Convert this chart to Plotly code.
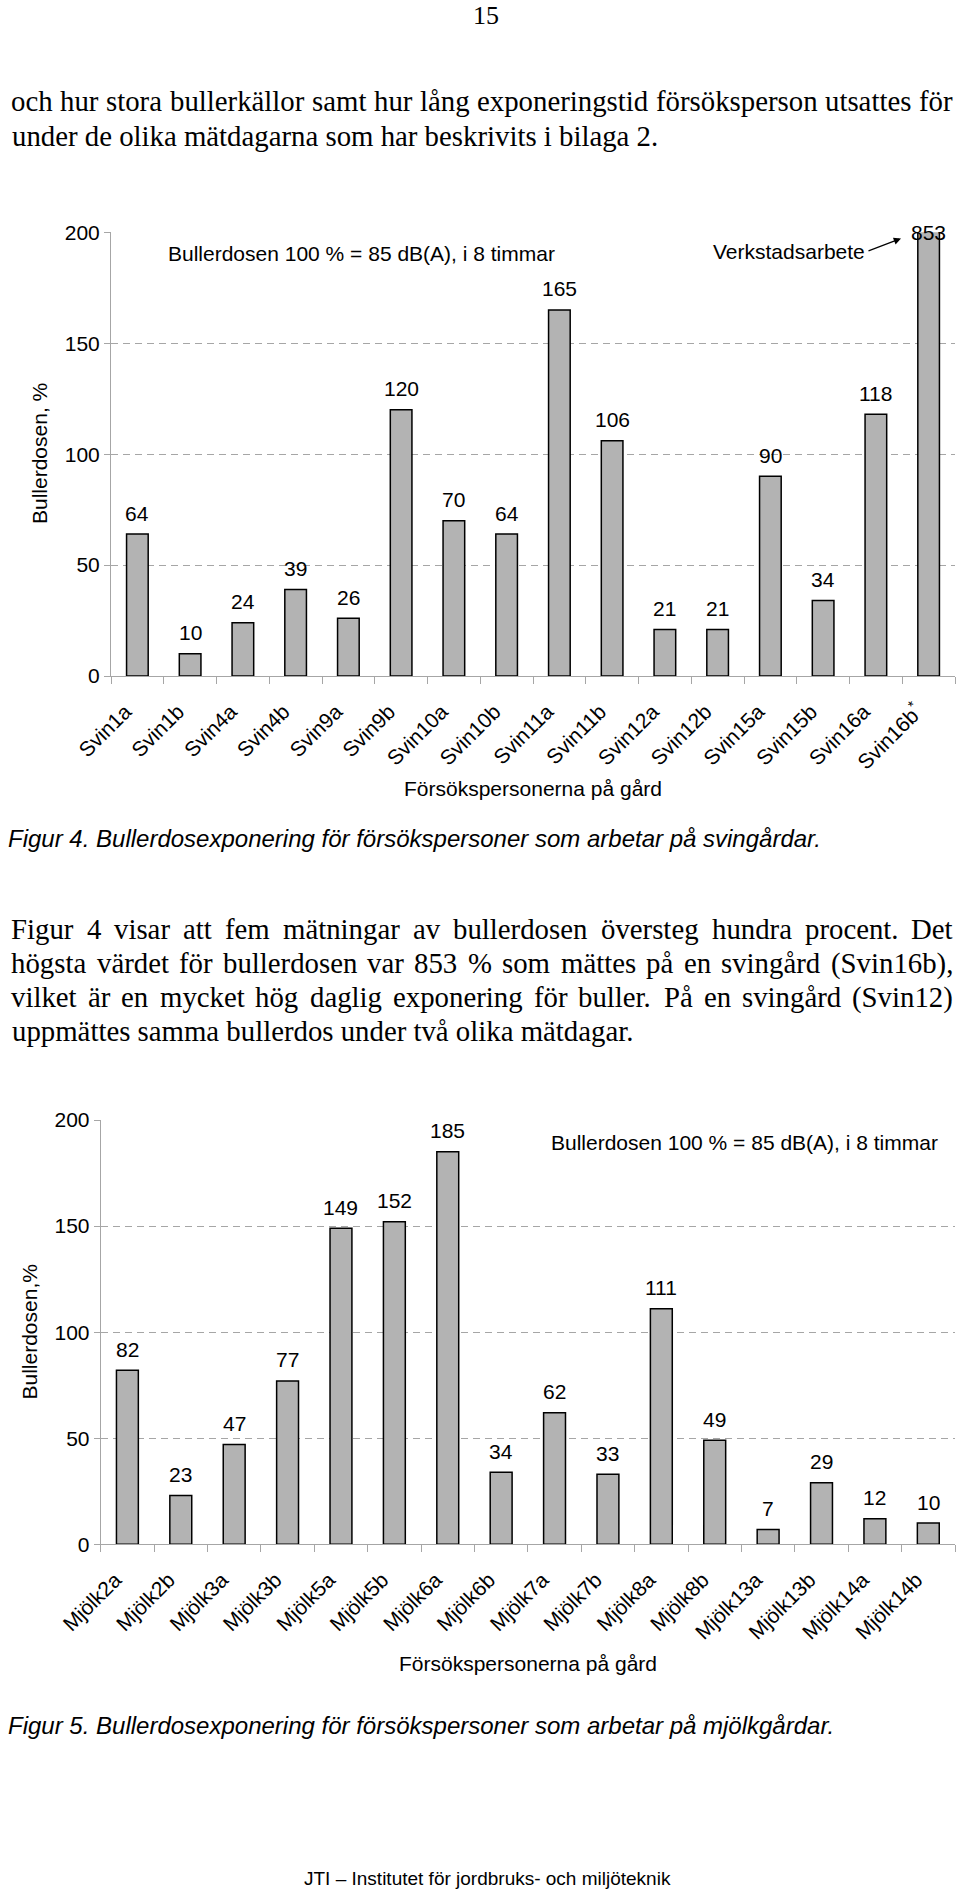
import plotly.graph_objects as go

# ---------------- data ----------------
svin_cats = ["Svin1a", "Svin1b", "Svin4a", "Svin4b", "Svin9a", "Svin9b", "Svin10a", "Svin10b",
             "Svin11a", "Svin11b", "Svin12a", "Svin12b", "Svin15a", "Svin15b", "Svin16a", "Svin16b"]
svin_ticktext = ["Svin1a", "Svin1b", "Svin4a", "Svin4b", "Svin9a", "Svin9b", "Svin10a", "Svin10b",
                 "Svin11a", "Svin11b", "Svin12a", "Svin12b", "Svin15a", "Svin15b", "Svin16a", "Svin16b<sup>*</sup>"]
svin_vals = [64, 10, 24, 39, 26, 120, 70, 64, 165, 106, 21, 21, 90, 34, 118, 853]

mjolk_cats = ["Mjölk2a", "Mjölk2b", "Mjölk3a", "Mjölk3b", "Mjölk5a", "Mjölk5b", "Mjölk6a", "Mjölk6b",
              "Mjölk7a", "Mjölk7b", "Mjölk8a", "Mjölk8b", "Mjölk13a", "Mjölk13b", "Mjölk14a", "Mjölk14b"]
mjolk_vals = [82, 23, 47, 77, 149, 152, 185, 34, 62, 33, 111, 49, 7, 29, 12, 10]

y_ticks = [0, 50, 100, 150, 200]
y_max = 200

page_number = "15"
para1 = ["och hur stora bullerkällor samt hur lång exponeringstid försöksperson utsattes för",
         "under de olika mätdagarna som har beskrivits i bilaga 2."]
para1_justify = [True, False]
para2 = ["Figur 4 visar att fem mätningar av bullerdosen översteg hundra procent. Det",
         "högsta värdet för bullerdosen var 853 % som mättes på en svingård (Svin16b),",
         "vilket är en mycket hög daglig exponering för buller. På en svingård (Svin12)",
         "uppmättes samma bullerdos under två olika mätdagar."]
para2_justify = [True, True, True, False]
caption4 = "Figur 4. Bullerdosexponering för försökspersoner som arbetar på svingårdar."
caption5 = "Figur 5. Bullerdosexponering för försökspersoner som arbetar på mjölkgårdar."
note_text = "Bullerdosen 100 % = 85 dB(A), i 8 timmar"
verkstad_text = "Verkstadsarbete"
xtitle = "Försökspersonerna på gård"
ytitle1 = "Bullerdosen, %"
ytitle2 = "Bullerdosen,%"
footer = "JTI – Institutet för jordbruks- och miljöteknik"

# ---------------- layout helpers ----------------
W, H = 960, 1892
def px(x):
    return x / W
def py(y):
    return 1 - y / H

SANS = "Liberation Sans, Arial, sans-serif"
SERIF = "Liberation Serif, Times New Roman, serif"
BAR_FILL = "#b3b3b3"
AXIS_COL = "#a6a6a6"
GRID_COL = "#a6a6a6"
FS = 21          # chart text size
BODY = 28.8      # body text size

# Times / Liberation Serif advance widths (1/1000 em) for justification
TIMES = {' ': 250, '.': 250, ',': 250, '(': 333, ')': 333, '%': 833,
         'a': 444, 'b': 500, 'c': 444, 'd': 500, 'e': 444, 'f': 333, 'g': 500, 'h': 500, 'i': 278,
         'j': 278, 'k': 500, 'l': 278, 'm': 778, 'n': 500, 'o': 500, 'p': 500, 'q': 500, 'r': 333,
         's': 389, 't': 278, 'u': 500, 'v': 500, 'w': 722, 'x': 500, 'y': 500, 'z': 444,
         'å': 444, 'ä': 444, 'ö': 500, 'D': 722, 'F': 556, 'P': 556, 'S': 556}
for d in "0123456789":
    TIMES[d] = 500
def tw(s, size):
    return sum(TIMES.get(ch, 500) for ch in s) / 1000.0 * size

fig = go.Figure()
fig.add_trace(go.Bar(x=svin_cats, y=svin_vals, xaxis="x", yaxis="y",
                     marker=dict(color=BAR_FILL, line=dict(color="black", width=1.5)),
                     hoverinfo="x+y"))
fig.add_trace(go.Bar(x=mjolk_cats, y=mjolk_vals, xaxis="x2", yaxis="y2",
                     marker=dict(color=BAR_FILL, line=dict(color="black", width=1.5)),
                     hoverinfo="x+y"))

common_y = dict(range=[0, y_max], tickvals=y_ticks, ticks="outside", ticklen=6, tickcolor=AXIS_COL,
                showline=True, linecolor=AXIS_COL, linewidth=1, automargin=False,
                showgrid=True, gridcolor=GRID_COL, griddash="7px,5px", gridwidth=1,
                zeroline=False, tickfont=dict(family=SANS, size=FS, color="black"), fixedrange=True)
common_x = dict(type="category", ticks="outside", ticklen=7, tickcolor=AXIS_COL, tickson="boundaries",
                showline=True, linecolor=AXIS_COL, linewidth=1, showgrid=False, tickangle=-45,
                automargin=False, ticklabelshift=-12, ticklabelstandoff=14,
                tickfont=dict(family=SANS, size=FS, color="black"), fixedrange=True)

fig.update_layout(
    width=W, height=H, margin=dict(l=0, r=0, t=0, b=0, autoexpand=False),
    paper_bgcolor="white", plot_bgcolor="white", showlegend=False, bargap=0.59,
    xaxis=dict(domain=[px(111), px(955)], anchor="y", tickvals=svin_cats, ticktext=svin_ticktext, **common_x),
    yaxis=dict(domain=[py(676), py(232.3)], anchor="x", **common_y),
    xaxis2=dict(domain=[px(100.7), px(955)], anchor="y2", **common_x),
    yaxis2=dict(domain=[py(1544.3), py(1120)], anchor="x2", **common_y),
)

ann = []
def text_ann(x, y, text, size=FS, family=SANS, xanchor="center", **kw):
    d = dict(x=px(x), y=py(y), xref="paper", yref="paper", text=text, showarrow=False,
             xanchor=xanchor, yanchor="middle", font=dict(family=family, size=size, color="black"))
    d.update(kw)
    ann.append(d)

# bar value labels
def add_labels(cats, vals, xr, yr):
    for c, v in zip(cats, vals):
        clipped = v > y_max
        ann.append(dict(x=c, y=min(v, y_max), xref=xr, yref=yr, text=str(v), showarrow=False,
                        xanchor="center", yanchor="middle", yshift=0 if clipped else 21,
                        font=dict(family=SANS, size=FS, color="black")))
add_labels(svin_cats, svin_vals, "x", "y")
add_labels(mjolk_cats, mjolk_vals, "x2", "y2")

# chart notes
text_ann(361, 253, note_text)
text_ann(744.5, 1142, note_text)
text_ann(789, 252, verkstad_text)
ann.append(dict(x=px(901), y=py(238.5), xref="paper", yref="paper", text="", showarrow=True,
                ax=-34, ay=13, arrowhead=2, arrowsize=1.2, arrowwidth=1.2, arrowcolor="black"))

# axis titles
text_ann(40, 454, ytitle1, textangle=-90)
text_ann(28.5, 1332, ytitle2, textangle=-90)
text_ann(533, 788, xtitle)
text_ann(528, 1663, xtitle)

# captions
cap_font = dict(family=SANS, size=24, color="black", style="italic")
ann.append(dict(x=px(6), y=py(838), xref="paper", yref="paper", text=caption4, xanchor="left",
                yanchor="middle", showarrow=False, font=cap_font))
ann.append(dict(x=px(6), y=py(1725), xref="paper", yref="paper", text=caption5, xanchor="left",
                yanchor="middle", showarrow=False, font=cap_font))

# body text (justified like the source page)
LEFT, RIGHT = 10, 952
def body_lines(lines, justify, y0, dy):
    for i, (line, j) in enumerate(zip(lines, justify)):
        y = y0 + dy * i
        if not j:
            text_ann(LEFT, y, line, size=BODY, family=SERIF, xanchor="left")
            continue
        words = line.split(" ")
        widths = [tw(w, BODY) for w in words]
        gap = (RIGHT - LEFT - sum(widths)) / (len(words) - 1)
        x = LEFT
        for w, wd in zip(words, widths):
            text_ann(x, y, w, size=BODY, family=SERIF, xanchor="left", borderpad=0)
            x += wd + gap

text_ann(486, 16, page_number, size=26, family=SERIF)
body_lines(para1, para1_justify, 101, 35)
body_lines(para2, para2_justify, 929, 34)
text_ann(487, 1878, footer, size=19)

fig.update_layout(annotations=ann)
fig.write_html("out.html")
